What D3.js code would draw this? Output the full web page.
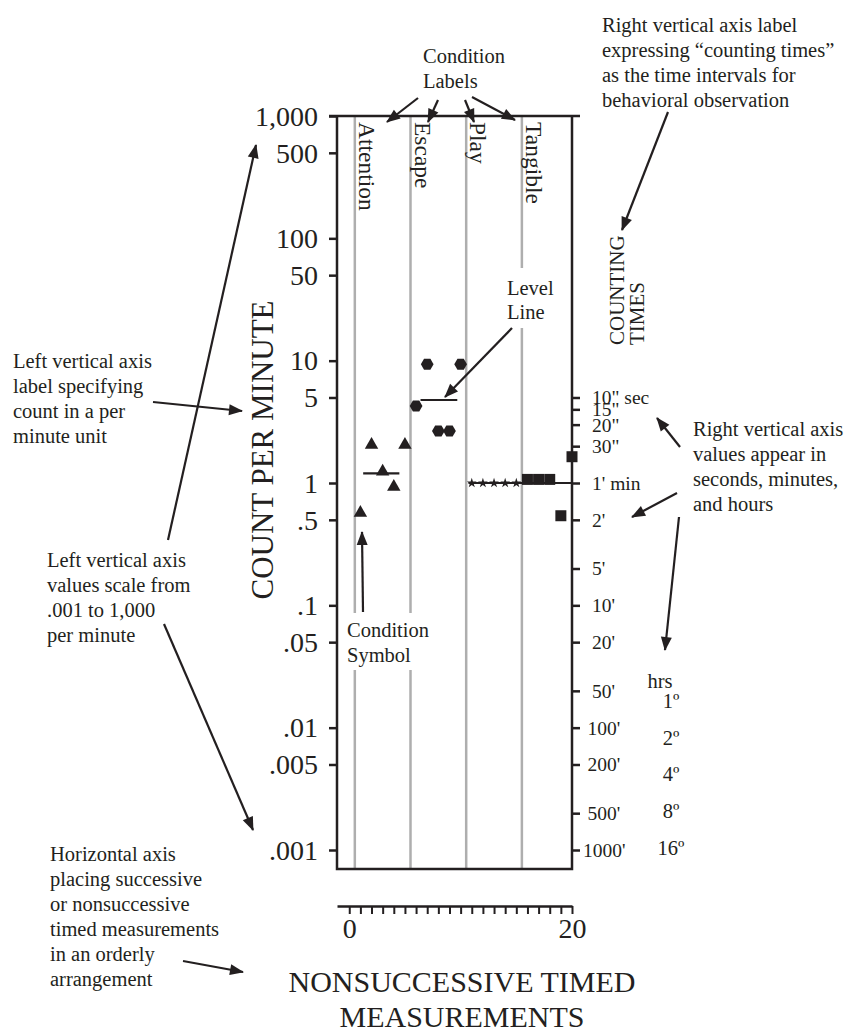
<!DOCTYPE html>
<html>
<head>
<meta charset="utf-8">
<script src="https://cdn.jsdelivr.net/npm/d3@7/dist/d3.min.js"></script>
<style>
  html, body { margin: 0; padding: 0; background: #fff; }
  svg { display: block; font-family: 'Liberation Serif', 'Times New Roman', serif; }
  .note { font-size: 20.5px; fill: #231f20; }
</style>
</head>
<body>
<div id="chart"></div>
<script>
// ---- data --------------------------------------------------------------
const conditions = ['Attention', 'Escape', 'Play', 'Tangible'];
const phaseChangeX = [0.5, 5.5, 10.5, 15.5];

const attentionX = [1, 2, 3, 4, 5];
const attentionY = [0.57, 2.05, 1.24, 0.93, 2.05];
const escapeX = [6, 7, 8, 9, 10];
const escapeY = [4.26, 9.33, 2.66, 2.66, 9.33];
const playX = [11, 12, 13, 14, 15];
const playY = [1, 1, 1, 1, 1];
const tangibleX = [16, 17, 18, 19, 20];
const tangibleY = [1.07, 1.07, 1.07, 0.54, 1.64];

// level lines: start, end (session units) and count per minute
const levelStart = [1.25, 6.4, 10.7, 15.6];
const levelEnd = [4.5, 9.7, 15.6, 20];
const levelValue = [1.2, 4.77, 1, 1];

const leftTickValues = [1000, 500, 100, 50, 10, 5, 1, 0.5, 0.1, 0.05, 0.01, 0.005, 0.001];
const leftTickLabels = ['1,000', '500', '100', '50', '10', '5', '1', '.5', '.1', '.05', '.01', '.005', '.001'];
const rightTickValues = [5, 4, 3, 2, 1, 0.5, 0.2, 0.1, 0.05, 0.02, 0.01, 0.005, 0.002, 0.001];
const rightTickLabels = ['10" sec', '15"', '20"', '30"', "1' min", "2'", "5'", "10'", "20'", "50'", "100'", "200'", "500'", "1000'"];
const hourValues = [0.0167, 0.0083, 0.0042, 0.0021, 0.00104];
const hourLabels = ['1º', '2º', '4º', '8º', '16º'];
const xTickValues = [0, 1, 2, 3, 4, 5, 6, 7, 8, 9, 10, 11, 12, 13, 14, 15, 16, 17, 18, 19, 20];
const xTickLabels = { 0: '0', 20: '20' };

// ---- layout ------------------------------------------------------------
const W = 858, H = 1034;
const box = { left: 337, right: 572, top: 116, bottom: 869 };
const INK = '#231f20';

const svg = d3.select('#chart').append('svg')
  .attr('width', W).attr('height', H)
  .attr('viewBox', `0 0 ${W} ${H}`);
svg.append('rect').attr('width', W).attr('height', H).attr('fill', '#fff');

const x = d3.scaleLinear().domain([-1.1, 20]).range([box.left, box.right]);
const y = d3.scaleLog().domain([0.001, 1000]).range([850, box.top]);

const defs = svg.append('defs');
defs.append('marker')
  .attr('id', 'head')
  .attr('viewBox', '-14 -6 15 12')
  .attr('refX', 0).attr('refY', 0)
  .attr('markerWidth', 15).attr('markerHeight', 12)
  .attr('markerUnits', 'userSpaceOnUse')
  .attr('orient', 'auto')
  .append('path').attr('d', 'M1,0 L-13,-5.5 L-13,5.5 Z').attr('fill', INK);

// phase change lines (grey)
svg.append('g').selectAll('line')
  .data(phaseChangeX).enter().append('line')
  .attr('x1', d => x(d)).attr('x2', d => x(d))
  .attr('y1', box.top).attr('y2', box.bottom)
  .attr('stroke', '#aeaeae').attr('stroke-width', 2.5);

// condition labels, rotated, hanging from the top
svg.append('g').selectAll('text')
  .data(conditions).enter().append('text')
  .attr('transform', (d, i) => `translate(${x(phaseChangeX[i]) + 4},${box.top + 6}) rotate(90)`)
  .attr('font-size', 23.5).attr('fill', INK)
  .text(d => d);

// white knock-outs behind the in-plot notes
svg.append('rect').attr('x', 503).attr('y', 268).attr('width', 56).attr('height', 60).attr('fill', '#fff');
svg.append('rect').attr('x', 344).attr('y', 613).attr('width', 90).attr('height', 57).attr('fill', '#fff');

// frame
const frame = svg.append('g').attr('stroke', INK).attr('stroke-width', 2.5).attr('fill', 'none');
frame.append('path').attr('d', `M${box.left},${box.top}V${box.bottom}H${box.right}V${box.top}`);
frame.append('line').attr('x1', box.left - 8).attr('x2', box.right + 8)
  .attr('y1', box.top).attr('y2', box.top);

// left axis
const leftAxis = svg.append('g')
  .attr('transform', `translate(${box.left},0)`)
  .call(d3.axisLeft(y).tickValues(leftTickValues)
    .tickFormat((d, i) => leftTickLabels[i]).tickSize(8).tickPadding(11))
  .attr('font-family', null).attr('font-size', null);
leftAxis.select('.domain').remove();
leftAxis.selectAll('line').attr('stroke', INK).attr('stroke-width', 2.5);
leftAxis.selectAll('text').attr('font-size', 28)
  .attr('fill', INK).attr('dy', '0.33em');

// right axis (counting times)
const rightAxis = svg.append('g')
  .attr('transform', `translate(${box.right},0)`)
  .call(d3.axisRight(y).tickValues(rightTickValues)
    .tickFormat((d, i) => rightTickLabels[i]).tickSize(8).tickPadding(12))
  .attr('font-family', null).attr('font-size', null);
rightAxis.select('.domain').remove();
rightAxis.selectAll('line').attr('stroke', INK).attr('stroke-width', 2.5);
rightAxis.selectAll('text').attr('font-size', 19.5)
  .attr('fill', INK).attr('dy', '0.33em')
  .attr('x', function () {
    const digits = (this.textContent.match(/\d/g) || []).length;
    return 20 - Math.max(0, digits - 2) * 4.5;
  });

// hours column
svg.append('text').attr('class', 'note').attr('x', 660).attr('y', 688)
  .attr('text-anchor', 'middle').text('hrs');
svg.append('g').selectAll('text')
  .data(hourValues).enter().append('text')
  .attr('class', 'note')
  .attr('x', 671).attr('y', d => y(d)).attr('dy', '0.35em')
  .attr('text-anchor', 'middle')
  .text((d, i) => hourLabels[i]);

// level lines
svg.append('g').selectAll('line')
  .data(levelValue).enter().append('line')
  .attr('x1', (d, i) => x(levelStart[i])).attr('x2', (d, i) => x(levelEnd[i]))
  .attr('y1', d => y(d)).attr('y2', d => y(d))
  .attr('stroke', INK).attr('stroke-width', 2.2);

// condition symbols
const hexagon = {
  draw(ctx, size) {
    const r = Math.sqrt(size / (1.5 * Math.sqrt(3)));
    for (let k = 0; k < 6; k++) {
      const a = Math.PI / 3 * k;
      const px = r * Math.cos(a), py = r * Math.sin(a);
      k ? ctx.lineTo(px, py) : ctx.moveTo(px, py);
    }
    ctx.closePath();
  }
};
const series = [
  { xs: attentionX, ys: attentionY, type: d3.symbolTriangle, size: 78 },
  { xs: escapeX, ys: escapeY, type: hexagon, size: 105 },
  { xs: playX, ys: playY, type: d3.symbolStar, size: 30 },
  { xs: tangibleX, ys: tangibleY, type: d3.symbolSquare, size: 121 },
];
const marks = svg.append('g').attr('fill', INK);
series.forEach(s => {
  marks.selectAll(null)
    .data(s.ys).enter().append('path')
    .attr('transform', (d, i) => `translate(${x(s.xs[i])},${y(d)})`)
    .attr('d', d3.symbol(s.type, s.size));
});

// x axis, set below the frame
const xAxis = svg.append('g')
  .attr('transform', 'translate(0,906)')
  .call(d3.axisBottom(x).tickValues(xTickValues)
    .tickFormat(d => xTickLabels[d] || '').tickSize(8).tickSizeOuter(0).tickPadding(4))
  .attr('font-family', null).attr('font-size', null);
xAxis.select('.domain').attr('stroke', INK).attr('stroke-width', 2.5);
xAxis.selectAll('line').attr('stroke', INK).attr('stroke-width', 2);
xAxis.selectAll('text').attr('font-size', 28).attr('fill', INK);

// axis titles
svg.append('text')
  .attr('transform', 'translate(273,450) rotate(-90)')
  .attr('text-anchor', 'middle').attr('font-size', 31).attr('fill', INK)
  .text('COUNT PER MINUTE');
['COUNTING', 'TIMES'].forEach((t, i) => {
  svg.append('text')
    .attr('transform', `translate(${624 + i * 20},345) rotate(-90)`)
    .attr('font-size', 21).attr('fill', INK)
    .text(t);
});
['NONSUCCESSIVE TIMED', 'MEASUREMENTS'].forEach((t, i) => {
  svg.append('text')
    .attr('x', 462).attr('y', 992 + i * 35)
    .attr('text-anchor', 'middle').attr('font-size', 30).attr('fill', INK)
    .text(t);
});

// explanatory notes
const notes = [
  { x: 423, y: 63, lines: ['Condition', 'Labels'] },
  { x: 602, y: 32, lines: ['Right vertical axis label', 'expressing \u201Ccounting times\u201D', 'as the time intervals for', 'behavioral observation'] },
  { x: 507, y: 295, lines: ['Level', 'Line'], gap: 24 },
  { x: 347, y: 637, lines: ['Condition', 'Symbol'] },
  { x: 13, y: 368, lines: ['Left vertical axis', 'label specifying', 'count in a per', 'minute unit'] },
  { x: 47, y: 567, lines: ['Left vertical axis', 'values scale from', '.001 to 1,000', 'per minute'] },
  { x: 50, y: 861, lines: ['Horizontal axis', 'placing successive', 'or nonsuccessive', 'timed measurements', 'in an orderly', 'arrangement'] },
  { x: 693, y: 436, lines: ['Right vertical axis', 'values appear in', 'seconds, minutes,', 'and hours'] },
];
notes.forEach(n => {
  const t = svg.append('text').attr('class', 'note');
  n.lines.forEach((l, i) => {
    t.append('tspan').attr('x', n.x).attr('y', n.y + i * (n.gap || 25)).text(l);
  });
});

// pointer arrows [x1, y1, x2, y2] (tip at x2, y2)
const arrows = [
  [418, 98, 387, 122], [438, 100, 428, 122], [465, 100, 474, 122], [472, 97, 515, 120],
  [668, 112, 622, 230],
  [153, 402, 242, 411],
  [168, 540, 256, 145],
  [164, 624, 253, 830],
  [183, 961, 243, 972],
  [512, 328, 445, 397],
  [363, 612, 362, 532],
  [680, 447, 657, 418], [677, 493, 632, 517], [679, 517, 665, 650],
];
svg.append('g').selectAll('line')
  .data(arrows).enter().append('line')
  .attr('x1', d => d[0]).attr('y1', d => d[1])
  .attr('x2', d => d[2]).attr('y2', d => d[3])
  .attr('stroke', INK).attr('stroke-width', 2.2)
  .attr('marker-end', 'url(#head)');
</script>
</body>
</html>
